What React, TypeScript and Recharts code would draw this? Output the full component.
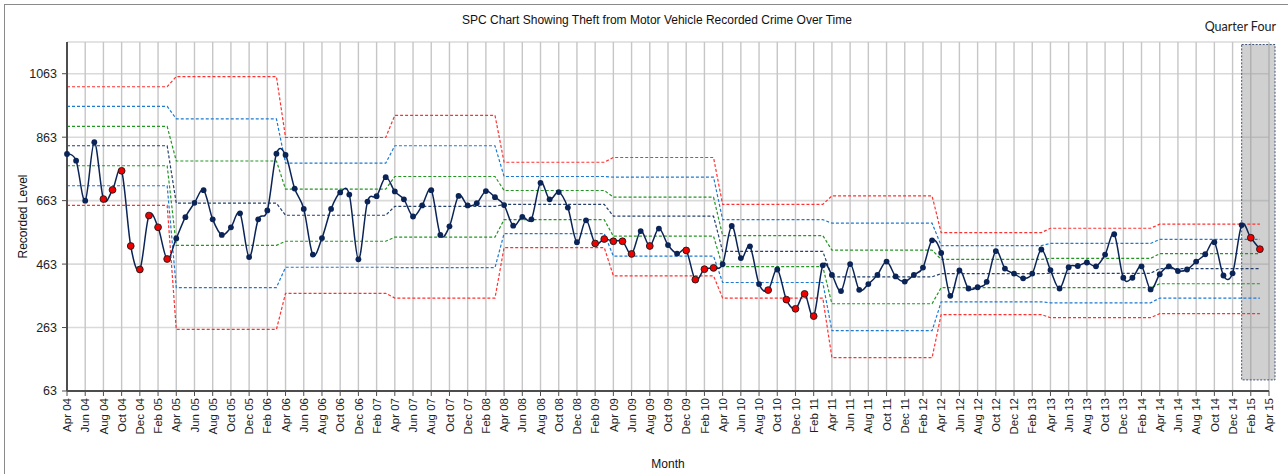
import React from 'react';
import { LineChart, Line, XAxis, YAxis, CartesianGrid, ReferenceArea, Label } from 'recharts';

// Month categories (x axis), Apr 04 .. Apr 15
const months: string[] = [
  'Apr 04', 'May 04', 'Jun 04', 'Jul 04', 'Aug 04', 'Sep 04', 'Oct 04', 'Nov 04', 'Dec 04',
  'Jan 05', 'Feb 05', 'Mar 05', 'Apr 05', 'May 05', 'Jun 05', 'Jul 05', 'Aug 05', 'Sep 05', 'Oct 05', 'Nov 05', 'Dec 05',
  'Jan 06', 'Feb 06', 'Mar 06', 'Apr 06', 'May 06', 'Jun 06', 'Jul 06', 'Aug 06', 'Sep 06', 'Oct 06', 'Nov 06', 'Dec 06',
  'Jan 07', 'Feb 07', 'Mar 07', 'Apr 07', 'May 07', 'Jun 07', 'Jul 07', 'Aug 07', 'Sep 07', 'Oct 07', 'Nov 07', 'Dec 07',
  'Jan 08', 'Feb 08', 'Mar 08', 'Apr 08', 'May 08', 'Jun 08', 'Jul 08', 'Aug 08', 'Sep 08', 'Oct 08', 'Nov 08', 'Dec 08',
  'Jan 09', 'Feb 09', 'Mar 09', 'Apr 09', 'May 09', 'Jun 09', 'Jul 09', 'Aug 09', 'Sep 09', 'Oct 09', 'Nov 09', 'Dec 09',
  'Jan 10', 'Feb 10', 'Mar 10', 'Apr 10', 'May 10', 'Jun 10', 'Jul 10', 'Aug 10', 'Sep 10', 'Oct 10', 'Nov 10', 'Dec 10',
  'Jan 11', 'Feb 11', 'Mar 11', 'Apr 11', 'May 11', 'Jun 11', 'Jul 11', 'Aug 11', 'Sep 11', 'Oct 11', 'Nov 11', 'Dec 11',
  'Jan 12', 'Feb 12', 'Mar 12', 'Apr 12', 'May 12', 'Jun 12', 'Jul 12', 'Aug 12', 'Sep 12', 'Oct 12', 'Nov 12', 'Dec 12',
  'Jan 13', 'Feb 13', 'Mar 13', 'Apr 13', 'May 13', 'Jun 13', 'Jul 13', 'Aug 13', 'Sep 13', 'Oct 13', 'Nov 13', 'Dec 13',
  'Jan 14', 'Feb 14', 'Mar 14', 'Apr 14', 'May 14', 'Jun 14', 'Jul 14', 'Aug 14', 'Sep 14', 'Oct 14', 'Nov 14', 'Dec 14',
  'Jan 15', 'Feb 15', 'Mar 15', 'Apr 15',
];

// Recorded crime per month, Apr 04 .. Mar 15
const recordedLevel: number[] = [
  810, 789, 663, 847, 668, 697, 757, 520, 446, 616, 579, 479, // 2004/05
  544, 611, 656, 696, 604, 555, 579, 623, 485, 604, 632, 811, // 2005/06
  807, 701, 637, 493, 545, 637, 689, 682, 478, 660, 677, 737, // 2006/07
  692, 667, 613, 648, 696, 555, 582, 678, 648, 655, 693, 674, // 2007/08
  649, 584, 612, 604, 719, 667, 690, 641, 532, 601, 528, 542, // 2008/09
  535, 535, 495, 567, 520, 575, 523, 496, 506, 414, 447, 451, // 2009/10
  463, 583, 482, 519, 400, 381, 446, 351, 322, 369, 299, 459, // 2010/11
  429, 378, 463, 382, 400, 429, 471, 424, 408, 429, 452, 538, // 2011/12
  498, 363, 443, 386, 390, 407, 504, 449, 433, 418, 433, 509, // 2012/13
  444, 386, 453, 457, 468, 456, 493, 557, 420, 420, 456, 383, // 2013/14
  431, 456, 441, 446, 471, 494, 532, 427, 434, 586, 546, 510, // 2014/15
];

// Months flagged as special-cause points (red markers)
const flaggedMonths: string[] = [
  'Aug 04', 'Sep 04', 'Oct 04', 'Nov 04', 'Dec 04', 'Jan 05', 'Feb 05', 'Mar 05',
  'Feb 09', 'Mar 09', 'Apr 09', 'May 09', 'Jun 09', 'Aug 09',
  'Dec 09', 'Jan 10', 'Feb 10', 'Mar 10', 'Sep 10',
  'Nov 10', 'Dec 10', 'Jan 11', 'Feb 11', 'Feb 15', 'Mar 15',
];

// Control limits per financial year (Apr-Mar), 2004/05 .. 2014/15
const meanLine: number[] = [836, 655, 617, 645, 651, 614, 503, 423, 433, 434, 449];
const upper1: number[] = [897, 788, 699, 739, 695, 674, 553, 507, 478, 481, 496];
const upper2: number[] = [960, 921, 781, 836, 739, 737, 603, 592, 521, 528, 541];
const upper3: number[] = [1022, 1054, 862, 932, 784, 799, 651, 678, 562, 576, 589];
const lower1: number[] = [773, 522, 535, 548, 603, 551, 455, 338, 389, 389, 401];
const lower2: number[] = [710, 389, 453, 452, 559, 488, 405, 253, 344, 341, 356];
const lower3: number[] = [648, 257, 371, 356, 515, 426, 356, 168, 304, 294, 307];

const yTicks: number[] = [63, 263, 463, 663, 863, 1063];
const yDomain: [number, number] = [63, 1163];

const quarterBox = { x1: 'Jan 15', x2: 'Apr 15', y1: 98, y2: 1155, label: 'Quarter Four' };

const data = months.map((m, i) => {
  const has = i < recordedLevel.length;
  const p = Math.floor(i / 12);
  return {
    month: m,
    value: has ? recordedLevel[i] : null,
    flag: flaggedMonths.includes(m),
    mean: has ? meanLine[p] : null,
    u1: has ? upper1[p] : null,
    u2: has ? upper2[p] : null,
    u3: has ? upper3[p] : null,
    l1: has ? lower1[p] : null,
    l2: has ? lower2[p] : null,
    l3: has ? lower3[p] : null,
  };
});

// Catmull-Rom (cardinal, tension 0) curve, like Excel's smoothed line
class CardinalCurve {
  _context: any;
  _k: number;
  _line: number = NaN;
  _point = 0;
  _x0 = NaN; _x1 = NaN; _x2 = NaN; _y0 = NaN; _y1 = NaN; _y2 = NaN;
  constructor(context: any, tension: number) {
    this._context = context;
    this._k = (1 - tension) / 6;
  }
  areaStart() { this._line = 0; }
  areaEnd() { this._line = NaN; }
  lineStart() {
    this._x0 = this._x1 = this._x2 = this._y0 = this._y1 = this._y2 = NaN;
    this._point = 0;
  }
  seg(x: number, y: number) {
    this._context.bezierCurveTo(
      this._x1 + this._k * (this._x2 - this._x0),
      this._y1 + this._k * (this._y2 - this._y0),
      this._x2 + this._k * (this._x1 - x),
      this._y2 + this._k * (this._y1 - y),
      this._x2,
      this._y2,
    );
  }
  lineEnd() {
    switch (this._point) {
      case 2: this._context.lineTo(this._x2, this._y2); break;
      case 3: this.seg(this._x1, this._y1); break;
    }
    if (this._line || (this._line !== 0 && this._point === 1)) this._context.closePath();
    this._line = 1 - this._line;
  }
  point(x: number, y: number) {
    x = +x; y = +y;
    switch (this._point) {
      case 0:
        this._point = 1;
        this._line ? this._context.lineTo(x, y) : this._context.moveTo(x, y);
        break;
      case 1:
        this._point = 2;
        this._x1 = x; this._y1 = y;
        break;
      case 2:
        this._point = 3;
        this.seg(x, y);
        break;
      default:
        this.seg(x, y);
        break;
    }
    this._x0 = this._x1; this._x1 = this._x2; this._x2 = x;
    this._y0 = this._y1; this._y1 = this._y2; this._y2 = y;
  }
}
const smoothCurve: any = (context: any) => new CardinalCurve(context, 0);

const FONT = '"Liberation Sans", Arial, sans-serif';

const renderDot = (props: any) => {
  const { cx, cy, payload, index } = props;
  if (cx == null || cy == null || payload == null || payload.value == null) return <g key={`d${index}`} />;
  if (payload.flag) {
    return <circle key={`d${index}`} cx={cx} cy={cy} r={3.4} fill="#F00000" stroke="#1a1a1a" strokeWidth={0.9} />;
  }
  return <circle key={`d${index}`} cx={cx} cy={cy} r={2.9} fill="#0B2457" stroke="none" />;
};

const XTick = (props: any) => {
  const { x, y, payload } = props;
  return (
    <g transform={`translate(${x},${y})`}>
      <text transform="rotate(-90)" textAnchor="end" dy="0.36em" fontSize={11.5} fill="#1e1e1e" fontFamily={FONT}>
        {payload.value}
      </text>
    </g>
  );
};

const QuarterShape = (props: any) => {
  const { x, y, width, height } = props;
  return (
    <rect x={x} y={y} width={width + 6} height={height} fill="#8f8f8f" fillOpacity={0.42}
      stroke="#3E5275" strokeDasharray="2 1.5" strokeWidth={1} />
  );
};

const limitProps = { strokeWidth: 1.2, strokeDasharray: '3 2', dot: false, activeDot: false, isAnimationActive: false, type: 'linear' as const };

export default function App() {
  return (
    <div style={{ position: 'absolute', left: 0, top: 0, width: 1288, height: 474, background: '#fff', overflow: 'hidden' }}>
      <div style={{ position: 'absolute', left: 4, top: 4, width: 1400, height: 600, borderTop: '1px solid #8a8a8a', borderLeft: '1px solid #8a8a8a' }} />
      <div style={{ position: 'absolute', left: 0, top: 13, width: 1314, textAlign: 'center', fontFamily: FONT, fontSize: 12, lineHeight: '14px', color: '#111' }}>
        SPC Chart Showing Theft from Motor Vehicle Recorded Crime Over Time
      </div>
      <div style={{ position: 'absolute', right: 12, top: 20, fontFamily: 'Lato, "Open Sans", sans-serif', fontSize: 12.5, lineHeight: '14px', color: '#222' }}>
        {quarterBox.label}
      </div>
      <div style={{ position: 'absolute', left: 0, top: 0 }}>
        <LineChart width={1288} height={474} data={data} margin={{ top: 42, right: 19, bottom: 0, left: 0 }}>
          <CartesianGrid vertical={false} stroke="#DADADA" strokeWidth={1.6} />
          <CartesianGrid horizontal={false} stroke="#C6C6C6" strokeWidth={1.4} />
          <XAxis dataKey="month" interval={1} height={83} tick={<XTick />} tickSize={5} tickMargin={2}
            axisLine={{ stroke: '#4d4d4d', strokeWidth: 2 }} tickLine={{ stroke: '#4d4d4d' }}>
            <Label value="Month" position="insideBottom" offset={6} style={{ fontFamily: FONT, fontSize: 12, fill: '#111' }} />
          </XAxis>
          <YAxis type="number" domain={yDomain} ticks={yTicks} width={67} allowDataOverflow tickSize={5} tickMargin={5}
            axisLine={{ stroke: '#4d4d4d', strokeWidth: 2 }} tickLine={{ stroke: '#4d4d4d' }}
            tick={{ fontFamily: FONT, fontSize: 12.5, fill: '#1e1e1e' }}>
            <Label value="Recorded Level" angle={-90} position="insideLeft" offset={23}
              style={{ textAnchor: 'middle', fontFamily: FONT, fontSize: 12, fill: '#111' }} />
          </YAxis>
          <ReferenceArea x1={quarterBox.x1} x2={quarterBox.x2} y1={quarterBox.y1} y2={quarterBox.y2} shape={<QuarterShape />} />
          <Line dataKey="u3" stroke="#FF3030" {...limitProps} />
          <Line dataKey="l3" stroke="#FF3030" {...limitProps} />
          <Line dataKey="u2" stroke="#1C7AD2" {...limitProps} />
          <Line dataKey="l2" stroke="#1C7AD2" {...limitProps} />
          <Line dataKey="u1" stroke="#229622" {...limitProps} />
          <Line dataKey="l1" stroke="#229622" {...limitProps} />
          <Line dataKey="mean" stroke="#24406B" {...limitProps} />
          <Line dataKey="value" type={smoothCurve} stroke="#0B2457" strokeWidth={1.5} dot={renderDot} activeDot={false} isAnimationActive={false} />
        </LineChart>
      </div>
    </div>
  );
}
